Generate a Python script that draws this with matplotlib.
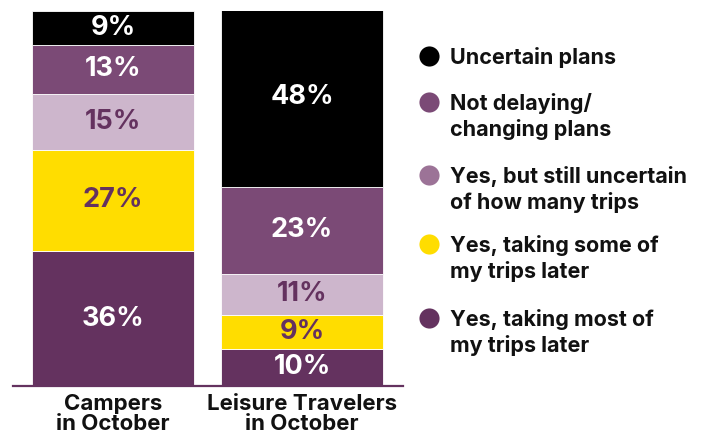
import matplotlib
matplotlib.use("Agg")
import matplotlib.pyplot as plt
from matplotlib.lines import Line2D

categories = ["Campers\nin October", "Leisure Travelers\nin October"]
series_names = ["Yes, taking most of\nmy trips later",
                "Yes, taking some of\nmy trips later",
                "Yes, but still uncertain\nof how many trips",
                "Not delaying/\nchanging plans",
                "Uncertain plans"]
most_later = [36, 10]
some_later = [27, 9]
still_uncertain = [15, 11]
not_delaying = [13, 23]
uncertain = [9, 48]

series_values = [most_later, some_later, still_uncertain, not_delaying, uncertain]
bar_colors = ["#64325F", "#FFDD00", "#CDB6CC", "#7B4A76", "#000000"]
label_colors = ["white", "#64325F", "#64325F", "white", "white"]
legend_colors = ["#64325F", "#FFDD00", "#9C7397", "#7B4A76", "#000000"]

plt.rcParams['font.family'] = ['Inter', 'DejaVu Sans']

fig = plt.figure(figsize=(7.01, 4.37), dpi=100)
ax = fig.add_axes([13/701, 1-386/437, 390/701, 375/437])

x = list(range(len(categories)))
bottoms = [0]*len(categories)
for vals, c, lc in zip(series_values, bar_colors, label_colors):
    ax.bar(x, vals, bottom=bottoms, width=0.857, color=c,
           edgecolor="white", linewidth=0.6)
    for xi, v, b in zip(x, vals, bottoms):
        ax.text(xi, b + v/2, f"{v}%", ha="center", va="center",
                color=lc, fontsize=19.5, fontweight="bold")
    bottoms = [b + v for b, v in zip(bottoms, vals)]

ax.set_xlim(-0.529, 1.534)
ax.set_ylim(0, 100)
for s in ["top", "right", "left"]:
    ax.spines[s].set_visible(False)
ax.spines["bottom"].set_color("#64325F")
ax.spines["bottom"].set_linewidth(1.6)
ax.set_yticks([])
ax.set_xticks(x)
ax.set_xticklabels(categories, fontsize=16, fontweight="bold",
                   linespacing=0.95, color="#111111")
ax.tick_params(axis="x", length=0, pad=6)

# legend (top to bottom), each line placed separately
legend_rows = [56, 102, 175, 244, 318]
line_gap = 26
for name, col, yc in zip(series_names[::-1], legend_colors[::-1], legend_rows):
    fig.add_artist(Line2D([429/701], [1-yc/437], marker="o",
                          markersize=14.5, color=col, markeredgewidth=0,
                          transform=fig.transFigure))
    for i, line in enumerate(name.split("\n")):
        fig.text(450/701, 1-(yc + i*line_gap)/437, line, ha="left",
                 va="center_baseline", fontsize=15.5, fontweight="bold",
                 color="#111111")

fig.savefig("out.png", dpi=100)
